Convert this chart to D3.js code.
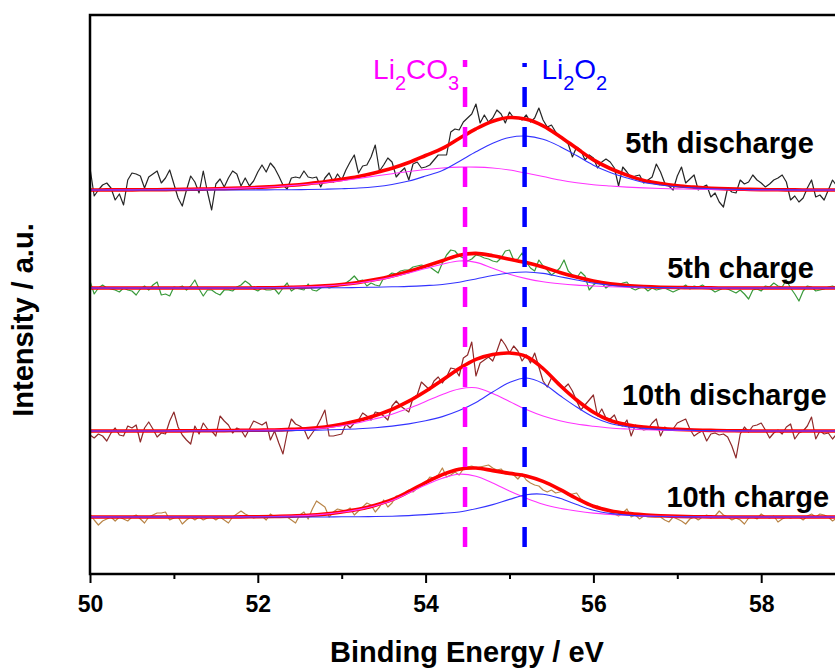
<!DOCTYPE html>
<html>
<head>
<meta charset="utf-8">
<script src="https://cdn.jsdelivr.net/npm/d3@7"></script>
<style>
body { margin: 0; background: #fff; }
</style>
</head>
<body>
<div id="canvas"></div>
<script>
const energyStart = 50;
const rawStep = 0.05;
const fitStep = 0.2;

const xTickValues = [50, 52, 54, 56, 58];
const xMinorTickValues = [51, 53, 55, 57, 59];

const spectrumLabels = ['5th discharge', '5th charge', '10th discharge', '10th charge'];
const baselines = [384, 286, 143, 57];

const peakLabels = ['Li2CO3', 'Li2O2'];
const peakEnergies = [54.47, 55.18];

// raw spectra, intensity above each baseline, 50.00 eV upward in 0.05 eV steps
const raw5thDischarge = [22, -6, 0, 5, 7, 2, -10, -4, -15, 10,
	17, 16, 14, 2, 13, 16, 19, 7, 12, 20,
	6, -8, -16, 0, 14, 8, -3, 19, -2, -20,
	6, 11, 3, 12, 19, 16, 4, 12, 4, 9,
	18, 25, 18, 27, 22, 14, 5, 1, 12, 13,
	12, 19, 13, 12, 13, 3, 12, 17, 8, 16,
	10, 20, 28, 35, 17, 24, 25, 33, 45, 19,
	25, 32, 28, 13, 18, 22, 10, 26, 28, 22,
	23, 25, 30, 35, 35, 35, 58, 61, 60, 68,
	72, 76, 86, 67, 75, 68, 72, 80, 76, 67,
	78, 72, 72, 70, 75, 68, 72, 82, 70, 63,
	65, 58, 53, 50, 46, 33, 43, 40, 30, 35,
	32, 22, 28, 31, 28, 22, 4, 23, 18, 12,
	14, 15, 7, 10, 13, 26, 18, 7, 4, 0,
	14, 23, 7, 11, 15, 0, 3, 5, -7, -3,
	-12, -17, 2, -2, -3, 10, 6, 8, 15, 10,
	7, 3, 6, 10, 12, 15, 8, -10, -6, -12,
	-8, 2, 10, -7, -5, -10, 0, 10, 4, -2];
const raw5thCharge = [7, -6, 0, 3, 0, -1, -2, -4, 0, -2,
	-3, -7, -1, 2, -2, 3, 6, -7, -6, -8,
	1, 0, 2, -2, 2, 8, -1, -8, -2, -2,
	-5, -7, -2, -2, -3, 1, 3, 7, 4, -1,
	-3, 0, -2, -2, -1, -6, 0, 5, -3, 0,
	-1, -2, 4, -2, -3, 0, 2, 0, 1, 2,
	3, 5, 8, 12, 7, 8, 2, 5, 3, 2,
	10, 12, 15, 14, 17, 18, 18, 21, 22, 23,
	22, 21, 18, 15, 25, 33, 38, 37, 32, 30,
	27, 29, 33, 32, 30, 29, 27, 26, 30, 37,
	38, 28, 29, 35, 26, 20, 17, 28, 22, 18,
	13, 16, 20, 28, 17, 13, 10, 16, 12, -2,
	3, 6, 5, 0, 3, 4, 3, 5, 6, 0,
	-2, 0, 1, -3, 0, -2, -1, 0, -2, -4,
	-2, 0, 3, -1, 2, 1, 3, 0, -1, -4,
	-2, 0, -1, -3, -5, -2, -6, -11, -2, -1,
	-3, 2, 1, 5, 2, 1, 8, 0, -6, -13,
	-3, 2, 1, -3, -2, -1, 1, 2, 0, -2];
const raw10thDischarge = [-4, -7, -3, -5, -10, -2, 3, -4, -5, 5,
	3, 6, -11, 3, 9, 2, -6, -2, -3, 10,
	19, 4, -4, -9, -13, 5, -3, 8, 2, 0,
	-5, 15, 10, 6, -2, 3, 1, -6, 2, 10,
	8, 6, 9, -9, 0, -12, -23, -2, 12, 7,
	5, 2, -8, -2, 4, 12, 21, -5, -5, -4,
	-3, 7, 3, 8, 11, 18, 15, 11, 19, 18,
	15, 11, 25, 30, 25, 22, 19, 33, 36, 49,
	45, 41, 50, 54, 48, 54, 63, 62, 55, 73,
	76, 89, 55, 68, 71, 74, 70, 80, 92, 86,
	78, 85, 80, 70, 76, 68, 78, 64, 50, 44,
	53, 51, 47, 43, 47, 40, 30, 21, 26, 31,
	36, 15, 22, 13, 12, 16, 6, 5, 11, -5,
	6, 3, 1, 2, 8, 12, -5, 4, 1, 2,
	8, 10, 12, 2, -5, -2, 0, -10, -3, -2,
	-4, -3, -6, -15, -27, -3, 4, -1, 5, 6,
	8, 1, -7, -2, 1, -3, 4, 7, -8, -2,
	0, 5, 14, -8, 0, -3, -2, -8, -3, 1];
const raw10thCharge = [3, -3, -8, -4, -2, 0, -4, 0, -2, -4,
	0, 2, -2, -6, 0, 2, 4, 4, 5, -3,
	-1, 0, -7, -3, 0, -3, 0, -3, -1, 0,
	-3, 0, -3, -6, 0, 3, 6, 3, 1, -1,
	0, 1, -3, 3, 0, 1, 0, 0, -3, -6,
	2, 5, -2, 8, 16, 13, 10, 0, 5, 8,
	7, 6, 9, 2, 6, 10, 14, 12, 5, 10,
	17, 10, 14, 21, 21, 24, 27, 25, 29, 31,
	34, 40, 39, 42, 49, 40, 42, 45, 42, 48,
	50, 51, 49, 50, 51, 52, 49, 47, 48, 43,
	43, 42, 38, 43, 37, 34, 32, 31, 27, 25,
	27, 24, 25, 26, 22, 23, 24, 18, 15, 13,
	10, 11, 9, 7, 5, 3, 1, 4, 8, 0,
	2, -2, 1, 0, 0, 0, 0, -3, -5, 0,
	-2, -4, -7, -2, 0, -3, 0, 2, -1, 1,
	6, 2, 0, -3, -1, -3, -7, -1, 0, -2,
	3, 0, -1, 1, -5, -2, 0, -1, 0, 0,
	-3, 1, 3, 0, 3, 2, 0, -4, -1, 2];

// fitted components, 50.0 eV upward in 0.2 eV steps
const fit5thDischargeCO3 = [0, 0.1, 0.1, 0.2, 0.3, 0.5, 0.7, 1.0, 1.4, 1.9,
	2.5, 3.3, 4.4, 5.8, 7.4, 9.3, 11.5, 14.0, 16.3, 18.5,
	20.5, 22.0, 22.9, 22.9, 22.0, 20.0, 16.8, 13.5, 10.0, 7.3,
	5.3, 4.0, 2.9, 2.1, 1.5, 1.1, 0.8, 0.5, 0.3, 0.2,
	0.1, 0, 0, 0, 0, 0, 0];
const fit5thDischargeO2 = [0, 0, 0, 0, 0, 0, 0, 0, 0, 0,
	0.1, 0.2, 0.3, 0.5, 0.8, 1.3, 2.0, 3.3, 5.5, 9.0,
	14.0, 19.6, 28.6, 38.2, 46.8, 52.5, 53.9, 50.7, 43.6, 34.4,
	24.8, 17.5, 12.0, 7.5, 5.0, 3.2, 2.1, 1.3, 0.8, 0.5,
	0.3, 0.2, 0.1, 0, 0, 0, 0];
const fit5thChargeCO3 = [0, 0, 0, 0, 0, 0, 0, 0, 0, 0,
	0.1, 0.3, 0.6, 1.1, 1.9, 3.2, 5.0, 7.6, 10.9, 15.0,
	19.5, 23.8, 27.0, 25.6, 19.8, 13.8, 9.4, 6.3, 4.3, 2.9,
	2.0, 1.3, 0.9, 0.6, 0.4, 0.3, 0.2, 0.1, 0, 0,
	0, 0, 0, 0, 0, 0, 0];
const fit5thChargeO2 = [0, 0, 0, 0, 0, 0, 0, 0, 0, 0,
	0, 0, 0, 0, 0.2, 0.3, 0.5, 0.8, 1.2, 1.6,
	2.4, 3.5, 5.8, 9.0, 12.5, 15.0, 16.0, 14.6, 11.3, 8.0,
	4.9, 2.8, 1.5, 0.8, 0.4, 0.2, 0.1, 0, 0, 0,
	0, 0, 0, 0, 0, 0, 0];
const fit10thDischargeCO3 = [0, 0, 0, 0, 0, 0.1, 0.2, 0.3, 0.4, 0.6,
	0.8, 1.0, 1.2, 1.8, 3.0, 5.2, 8.2, 12.2, 16.8, 22.7,
	29.5, 36.5, 42.0, 43.2, 37.5, 29.5, 21.5, 15.0, 10.3, 7.0,
	4.8, 3.0, 2.0, 1.3, 0.9, 0.6, 0.4, 0.2, 0.1, 0,
	0, 0, 0, 0, 0, 0, 0];
const fit10thDischargeO2 = [0, 0, 0, 0, 0, 0, 0, 0, 0, 0,
	0, 0, 0.4, 0.6, 1.0, 1.5, 2.2, 3.3, 4.9, 7.1,
	10.2, 14.4, 20.4, 28.5, 39.0, 48.5, 53.0, 47.5, 35.5, 24.0,
	14.0, 7.5, 4.3, 2.6, 1.6, 1.0, 0.6, 0.4, 0.2, 0.1,
	0, 0, 0, 0, 0, 0, 0];
const fit10thChargeCO3 = [0, 0, 0, 0, 0, 0, 0, 0, 0, 0.1,
	0.3, 0.5, 0.9, 1.6, 2.9, 4.8, 7.4, 11.3, 16.5, 24.0,
	32.0, 38.8, 42.8, 40.8, 34.0, 26.0, 18.8, 12.8, 8.8, 6.0,
	3.9, 2.6, 1.7, 1.1, 0.7, 0.4, 0.2, 0.1, 0, 0,
	0, 0, 0, 0, 0, 0, 0];
const fit10thChargeO2 = [0, 0, 0, 0, 0, 0, 0, 0, 0, 0,
	0, 0, 0, 0, 0, 0.2, 0.3, 0.5, 0.8, 1.4,
	2.4, 3.6, 5.0, 8.2, 12.4, 17.6, 22.3, 22.8, 18.8, 12.5,
	6.8, 3.6, 1.9, 1.0, 0.5, 0.2, 0.1, 0, 0, 0,
	0, 0, 0, 0, 0, 0, 0];

const spectra = [
	{ label: spectrumLabels[0], base: baselines[0], raw: raw5thDischarge, co3: fit5thDischargeCO3, o2: fit5thDischargeO2, color: '#262626', labelAt: [56.38, 37] },
	{ label: spectrumLabels[1], base: baselines[1], raw: raw5thCharge, co3: fit5thChargeCO3, o2: fit5thChargeO2, color: '#3a9a3a', labelAt: [56.88, 10] },
	{ label: spectrumLabels[2], base: baselines[2], raw: raw10thDischarge, co3: fit10thDischargeCO3, o2: fit10thDischargeO2, color: '#8e2a2a', labelAt: [56.34, 26] },
	{ label: spectrumLabels[3], base: baselines[3], raw: raw10thCharge, co3: fit10thChargeCO3, o2: fit10thChargeO2, color: '#b98548', labelAt: [56.87, 10] }
];

const w = 835;
const h = 668;

const x = d3.scaleLinear().domain([50, 60]).range([90, 929]);
const y = d3.scaleLinear().domain([0, 559]).range([574, 15]);

const svg = d3.select('#canvas')
	.append('svg')
	.attr('width', w)
	.attr('height', h)
	.style('font-family', '"Liberation Sans", Arial, sans-serif');

const rawLine = d3.line()
	.x(d => x(d[0]))
	.y(d => y(d[1]));

const fitLine = d3.line()
	.curve(d3.curveCatmullRom.alpha(0.5))
	.x(d => x(d[0]))
	.y(d => y(d[1]));

spectra.forEach(s => {
	const rawPts = s.raw.map((v, i) => [energyStart + i * rawStep, s.base + v]);
	const co3Pts = s.co3.map((v, i) => [energyStart + i * fitStep, s.base + v]);
	const o2Pts = s.o2.map((v, i) => [energyStart + i * fitStep, s.base + v]);
	const envPts = s.co3.map((v, i) => [energyStart + i * fitStep, s.base + v + s.o2[i]]);

	svg.append('path')
		.attr('d', rawLine(rawPts))
		.attr('fill', 'none')
		.attr('stroke', s.color)
		.attr('stroke-width', 1.2)
		.attr('stroke-linejoin', 'round');

	svg.append('path')
		.attr('d', fitLine(envPts))
		.attr('fill', 'none')
		.attr('stroke', '#ff0000')
		.attr('stroke-width', 3.6);

	svg.append('path')
		.attr('d', fitLine(co3Pts))
		.attr('fill', 'none')
		.attr('stroke', '#ff33ff')
		.attr('stroke-width', 1.1);

	svg.append('path')
		.attr('d', fitLine(o2Pts))
		.attr('fill', 'none')
		.attr('stroke', '#3333ff')
		.attr('stroke-width', 1.1);

	svg.append('text')
		.attr('x', x(s.labelAt[0]))
		.attr('y', y(s.base + s.labelAt[1]))
		.attr('font-size', 29)
		.attr('font-weight', 'bold')
		.attr('fill', '#000')
		.text(s.label);
});

// reference lines for the two species
const peakColors = ['#ff00ff', '#0000ff'];
const peakTops = [514, 511];
peakEnergies.forEach((e, k) => {
	svg.append('line')
		.attr('x1', x(e))
		.attr('x2', x(e))
		.attr('y1', y(27))
		.attr('y2', y(peakTops[k]))
		.attr('stroke', peakColors[k])
		.attr('stroke-width', 4.5)
		.attr('stroke-dasharray', '20,20');

	const t = svg.append('text')
		.attr('x', k === 0 ? x(e - 0.07) : x(e + 0.2))
		.attr('y', y(495))
		.attr('font-size', 28)
		.attr('fill', peakColors[k])
		.attr('text-anchor', k === 0 ? 'end' : 'start');
	let shift = 0;
	peakLabels[k].split(/(\d+)/).filter(p => p.length).forEach(p => {
		const sub = /^\d+$/.test(p);
		const dy = sub ? 11 - shift : -shift;
		shift = sub ? 11 : 0;
		t.append('tspan')
			.attr('dy', dy)
			.attr('font-size', sub ? 20 : 28)
			.text(p);
	});
});

// frame
svg.append('rect')
	.attr('x', x(50))
	.attr('y', y(559))
	.attr('width', x(60) - x(50))
	.attr('height', y(0) - y(559))
	.attr('fill', 'none')
	.attr('stroke', '#000')
	.attr('stroke-width', 2.5);

const xAxis = svg.append('g')
	.attr('transform', 'translate(0,' + y(0) + ')')
	.call(d3.axisBottom(x).tickValues(xTickValues).tickSize(9).tickPadding(13).tickFormat(d3.format('d')));

svg.append('g')
	.attr('transform', 'translate(0,' + y(0) + ')')
	.call(d3.axisBottom(x).tickValues(xMinorTickValues).tickSize(5).tickFormat(''))
	.call(g => g.select('.domain').remove())
	.selectAll('line')
	.attr('stroke-width', 2);

xAxis.select('.domain').remove();
xAxis.selectAll('line').attr('stroke-width', 2);
xAxis.selectAll('text')
	.attr('font-size', 23)
	.attr('font-weight', 'bold')
	.attr('font-family', '"Liberation Sans", Arial, sans-serif')
	.attr('fill', '#000');

svg.append('text')
	.attr('x', 467)
	.attr('y', 662)
	.attr('text-anchor', 'middle')
	.attr('font-size', 29)
	.attr('font-weight', 'bold')
	.text('Binding Energy / eV');

svg.append('text')
	.attr('transform', 'translate(33,320) rotate(-90)')
	.attr('text-anchor', 'middle')
	.attr('font-size', 29)
	.attr('font-weight', 'bold')
	.text('Intensity / a.u.');
</script>
</body>
</html>
